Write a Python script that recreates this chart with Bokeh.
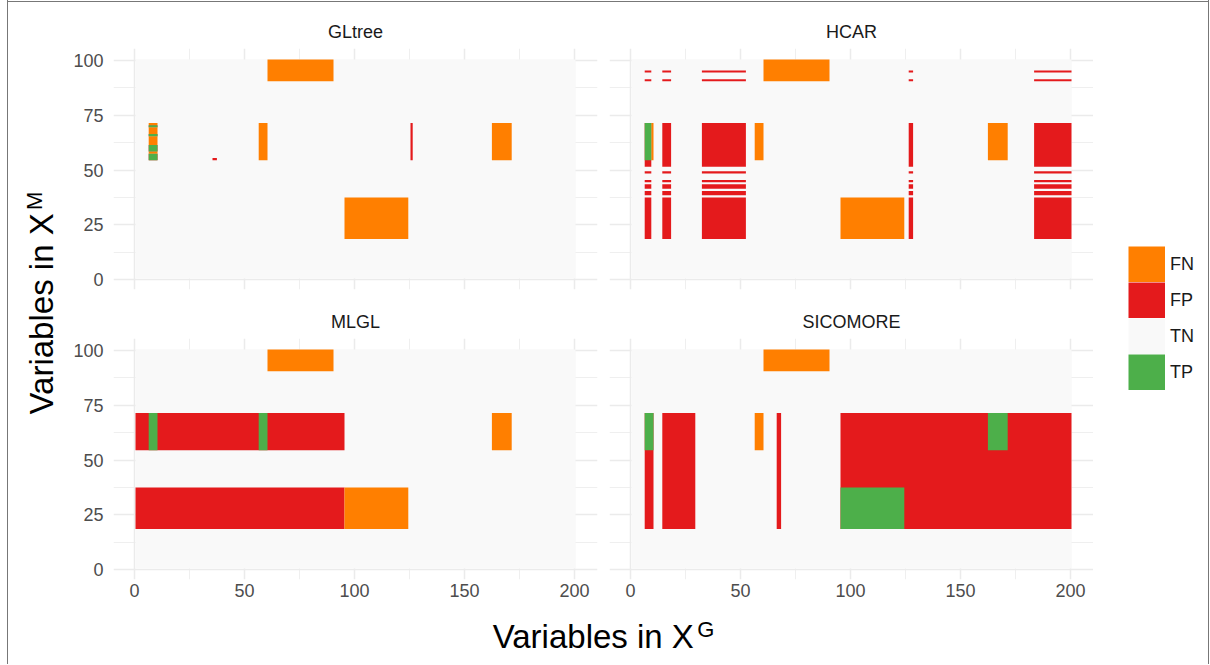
import numpy as np
from math import pi
from bokeh.plotting import figure
from bokeh.models import (ColumnDataSource, Range1d, FixedTicker, LinearAxis, Grid,
                          Label, Legend, LegendItem, Spacer)
from bokeh.layouts import row, column
from bokeh.embed import file_html
from bokeh.resources import INLINE

# ---------------- data ----------------
N_G = 200   # variables in X^G
N_M = 100   # variables in X^M

panel_names = ["GLtree", "HCAR", "MLGL", "SICOMORE"]
statuses = ["FN", "FP", "TN", "TP"]
status_colors = ["#FF7F00", "#E41A1C", "#F9F9F9", "#4DAF4A"]

# true interaction blocks (inclusive variable index ranges)
true_g_from = [61, 7, 57, 163, 96]
true_g_to = [90, 10, 60, 171, 124]
true_m_from = [91, 55, 55, 55, 19]
true_m_to = [100, 71, 71, 71, 37]

# GLtree: selected rectangles (paired G-range x M-range)
gltree_g_from = [7, 7, 7, 7, 36, 126]
gltree_g_to = [10, 10, 10, 10, 37, 126]
gltree_m_from = [55, 59, 66, 70, 55, 55]
gltree_m_to = [57, 61, 66, 70, 55, 71]

# HCAR: selected G groups x selected M groups
hcar_g_from = [7, 15, 33, 127, 184]
hcar_g_to = [9, 18, 52, 128, 200]
hcar_m_from = [19, 39, 42, 45, 49, 52, 91, 95]
hcar_m_to = [37, 40, 43, 45, 49, 71, 91, 95]

# MLGL
mlgl_g_from = [1]
mlgl_g_to = [95]
mlgl_m_from = [19, 55]
mlgl_m_to = [37, 71]

# SICOMORE
sicomore_g_from = [7, 15, 67, 96]
sicomore_g_to = [10, 29, 68, 200]
sicomore_m_from = [19]
sicomore_m_to = [71]

x_ticks = [0, 50, 100, 150, 200]
y_ticks = [0, 25, 50, 75, 100]


# ---------------- helpers ----------------
def paired_rects(gf, gt, mf, mt):
    return list(zip(gf, gt, mf, mt))


def product_rects(gf, gt, mf, mt):
    return [(a, b, c, d) for a, b in zip(gf, gt) for c, d in zip(mf, mt)]


def rect_matrix(rects):
    mat = np.zeros((N_M, N_G), dtype=bool)
    for a, b, c, d in rects:
        mat[c - 1:d, a - 1:b] = True
    return mat


truth_rects = paired_rects(true_g_from, true_g_to, true_m_from, true_m_to)

selections = [
    paired_rects(gltree_g_from, gltree_g_to, gltree_m_from, gltree_m_to),
    product_rects(hcar_g_from, hcar_g_to, hcar_m_from, hcar_m_to),
    product_rects(mlgl_g_from, mlgl_g_to, mlgl_m_from, mlgl_m_to),
    product_rects(sicomore_g_from, sicomore_g_to, sicomore_m_from, sicomore_m_to),
]


def block_status_rects(sel_mat, block):
    """Split one true block into FN / TP rectangles (cell status inside the block)."""
    g0, g1, m0, m1 = block
    sub = sel_mat[m0 - 1:m1, g0 - 1:g1]
    out = {"FN": [], "TP": []}
    open_runs = {}
    nm, ng = sub.shape
    for m in range(nm + 1):
        runs = set()
        if m < nm:
            r = sub[m]
            g = 0
            while g < ng:
                s = bool(r[g])
                e = g
                while e + 1 < ng and bool(r[e + 1]) == s:
                    e += 1
                runs.add((g, e, s))
                g = e + 1
        for k in list(open_runs):
            if k not in runs:
                ms = open_runs.pop(k)
                out["TP" if k[2] else "FN"].append(
                    (g0 + k[0], g0 + k[1], m0 + ms, m0 + m - 1))
        for k in runs:
            if k not in open_runs:
                open_runs[k] = m
    return out


def rect_source(rects):
    return ColumnDataSource(dict(
        left=[r[0] - 0.5 for r in rects], right=[r[1] + 0.5 for r in rects],
        bottom=[r[2] - 0.5 for r in rects], top=[r[3] + 0.5 for r in rects]))


FONT = "Liberation Sans"
GRID = "#EBEBEB"
FRAME_W, FRAME_H = 484, 241
x_minor = [(a + b) / 2 for a, b in zip(x_ticks[:-1], x_ticks[1:])]
y_minor = [(a + b) / 2 for a, b in zip(y_ticks[:-1], y_ticks[1:])]
COLOR = dict(zip(statuses, status_colors))


def make_panel(idx, show_x, show_y, bl, br, bt, bb):
    name = panel_names[idx]
    sel = selections[idx]
    sel_mat = rect_matrix(sel)
    xpad, ypad = 0.05 * N_G, 0.05 * N_M
    p = figure(width=bl + FRAME_W + br, height=bt + FRAME_H + bb,
               x_range=Range1d(0.5 - xpad, N_G + 0.5 + xpad),
               y_range=Range1d(0.5 - ypad, N_M + 0.5 + ypad),
               x_axis_location=None, y_axis_location=None,
               toolbar_location=None, output_backend="svg",
               min_border_left=bl, min_border_right=br,
               min_border_top=bt, min_border_bottom=bb)
    p.center = []
    p.outline_line_color = None
    p.background_fill_color = "white"
    p.border_fill_color = "white"

    p.add_layout(Grid(dimension=0, ticker=FixedTicker(ticks=x_ticks, minor_ticks=x_minor),
                      grid_line_color=GRID, grid_line_width=1.5,
                      minor_grid_line_color=GRID, minor_grid_line_width=0.8), "center")
    p.add_layout(Grid(dimension=1, ticker=FixedTicker(ticks=y_ticks, minor_ticks=y_minor),
                      grid_line_color=GRID, grid_line_width=1.5,
                      minor_grid_line_color=GRID, minor_grid_line_width=0.8), "center")

    common = dict(axis_line_color=None, major_tick_line_color=None,
                  minor_tick_line_color=None, major_tick_out=0,
                  major_label_text_font_size="18px", major_label_text_font=FONT,
                  major_label_text_color="#4D4D4D")
    if show_y:
        p.add_layout(LinearAxis(ticker=FixedTicker(ticks=y_ticks),
                                major_label_standoff=10, **common), "left")
    if show_x:
        p.add_layout(LinearAxis(ticker=FixedTicker(ticks=x_ticks),
                                major_label_standoff=4, **common), "below")

    p.title.text = name
    p.title.align = "center"
    p.title.text_font_size = "18px"
    p.title.text_font_style = "normal"
    p.title.text_font = FONT
    p.title.text_color = "#1A1A1A"
    p.title.standoff = 13

    # TN: whole variable grid
    p.quad(left=[0.5], right=[N_G + 0.5], bottom=[0.5], top=[N_M + 0.5],
           fill_color=COLOR["TN"], line_color=None)
    # FP: selected cells (true cells are painted over below)
    p.quad(left="left", right="right", bottom="bottom", top="top",
           source=rect_source(sel), fill_color=COLOR["FP"], line_color=None)
    # true blocks: FN where not selected, TP where selected
    fn, tp = [], []
    for block in truth_rects:
        parts = block_status_rects(sel_mat, block)
        fn += parts["FN"]
        tp += parts["TP"]
    p.quad(left="left", right="right", bottom="bottom", top="top",
           source=rect_source(fn), fill_color=COLOR["FN"], line_color=None)
    p.quad(left="left", right="right", bottom="bottom", top="top",
           source=rect_source(tp), fill_color=COLOR["TP"], line_color=None)
    return p


p1 = make_panel(0, False, True, 53, 6, 46, 10)
p2 = make_panel(1, False, False, 6, 0, 46, 10)
p3 = make_panel(2, True, True, 53, 6, 39, 26)
p4 = make_panel(3, True, False, 6, 0, 39, 26)


def blank(w, h):
    f = figure(width=w, height=h, x_range=Range1d(0, w), y_range=Range1d(0, h),
               x_axis_location=None, y_axis_location=None, toolbar_location=None,
               output_backend="svg", min_border=0)
    f.center = []
    f.outline_line_color = None
    f.border_fill_color = "white"
    f.background_fill_color = "white"
    return f


H = 662
# y axis title
ylab = blank(52, H)
ylab.add_layout(Label(x=33, y=250, text="Variables in X", angle=pi / 2, text_align="left",
                      text_baseline="middle", text_font_size="33px", text_font=FONT,
                      text_color="black"))
ylab.add_layout(Label(x=26, y=454.6, text="M", angle=pi / 2, text_align="left",
                      text_baseline="middle", text_font_size="22px", text_font=FONT,
                      text_color="black"))

# x axis title
xlab = blank(1033, 59)
xlab.add_layout(Label(x=432.2, y=28, text="Variables in X", text_align="left",
                      text_baseline="middle", text_font_size="33px", text_font=FONT,
                      text_color="black"))
xlab.add_layout(Label(x=636.8, y=35.5, text="G", text_align="left",
                      text_baseline="middle", text_font_size="22px", text_font=FONT,
                      text_color="black"))

# legend (proxy renderers kept outside the visible range)
leg = blank(115, H)
items = []
for s, c in zip(statuses, status_colors):
    r = leg.line(x=[-200, -199], y=[-200, -200], line_color=c, line_width=36,
                 line_cap="butt")
    items.append(LegendItem(label=s, renderers=[r]))
legend = Legend(items=items, location=(35, 274), glyph_width=37, glyph_height=36,
                spacing=0, padding=0, margin=0, label_standoff=5,
                label_text_font_size="18px", label_text_font=FONT,
                label_text_color="#1A1A1A", border_line_color=None,
                background_fill_alpha=0)
leg.add_layout(legend, "center")

FRAME_LINE = {"background-color": "#777777"}
middle = column(row(p1, p2), row(p3, p4), xlab)
inner = row(ylab, middle, leg)
root = row(
    Spacer(width=7, height=H + 2),
    Spacer(width=1, height=H + 2, styles=FRAME_LINE),
    column(Spacer(width=1200, height=1),
           Spacer(width=1200, height=1, styles=FRAME_LINE),
           inner),
    Spacer(width=1, height=H + 2, styles=FRAME_LINE),
)

open("out.html", "w").write(file_html(root, INLINE))
